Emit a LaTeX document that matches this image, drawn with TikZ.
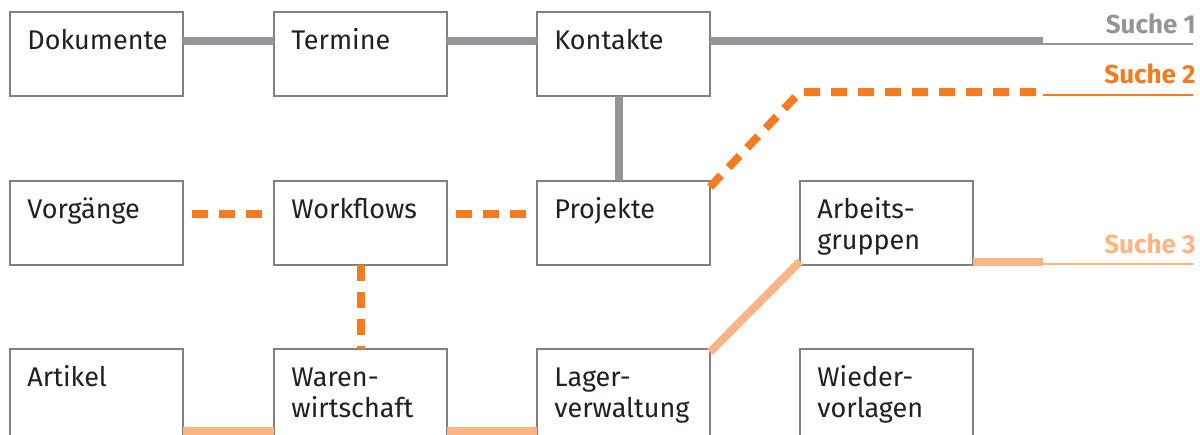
\documentclass[tikz,border=0pt]{standalone}
\usepackage{fontspec}
\setmainfont{Fira Sans}

\tikzstyle{box}=[draw={box-line}, fill=white, line width=1pt, anchor=north west, minimum width=86.5pt, minimum height=41.75pt, inner sep=0pt, outer sep=0pt]
\tikzstyle{box-low}=[box, minimum height=44pt]
\tikzstyle{box-text}=[anchor=base west, align=left, inner sep=0pt, xshift=8.5pt, yshift=-18.5pt, text={box-text}, font=\fontsize{13.5}{15.5}\selectfont]
\tikzstyle{box-text-2}=[box-text, yshift=-15.5pt]
\tikzstyle{search-label}=[anchor=base east, inner sep=0pt, font=\fontsize{13}{15}\selectfont\bfseries]
\tikzstyle{search1}=[draw={search1}, line width=4pt]
\tikzstyle{search2}=[draw={search2}, line width=4pt, dash pattern=on 8pt off 5.5pt, line join=round]
\tikzstyle{search3}=[draw={search3}, line width=4pt]
\tikzstyle{tail}=[line width=1.2pt]
\definecolor{box-line}{HTML}{808080}
\definecolor{box-text}{HTML}{231F20}
\definecolor{search1}{HTML}{939598}
\definecolor{search2}{HTML}{F47B20}
\definecolor{search3}{HTML}{FBB584}

\begin{document}
\begin{tikzpicture}[x=0.5pt, y=-0.5pt]
      \useasboundingbox (0, 0) rectangle (1200, 434);

      % row 1
      \node (dokumente) at (10, 12)
            [box, label={[box-text]north west:Dokumente}] {};
      \node (termine) at (274, 12)
            [box, label={[box-text]north west:Termine}] {};
      \node (kontakte) at (537, 12)
            [box, label={[box-text]north west:Kontakte}] {};
      % row 2
      \node (vorgaenge) at (10, 181)
            [box, label={[box-text]north west:Vorgänge}] {};
      \node (workflows) at (274, 181)
            [box, label={[box-text]north west:Workflows}] {};
      \node (projekte) at (537, 181)
            [box, label={[box-text]north west:Projekte}] {};
      \node (arbeitsgruppen) at (800, 181)
            [box, label={[box-text-2]north west:{Arbeits-\\gruppen}}] {};
      % row 3 (runs off the bottom edge)
      \node (artikel) at (10, 349)
            [box-low, label={[box-text]north west:Artikel}] {};
      \node (warenwirtschaft) at (274, 349)
            [box-low, label={[box-text-2]north west:{Waren-\\wirtschaft}}] {};
      \node (lagerverwaltung) at (537, 349)
            [box-low, label={[box-text-2]north west:{Lager-\\verwaltung}}] {};
      \node (wiedervorlagen) at (800, 349)
            [box-low, label={[box-text-2]north west:{Wieder-\\vorlagen}}] {};

      \coordinate (end1) at (1043, 41);
      \coordinate (tail1) at (1193, 44);
      \coordinate (bend2) at (800, 92);
      \coordinate (end2) at (1043, 92);
      \coordinate (tail2) at (1193, 95);
      \coordinate (end3) at (1043, 261);
      \coordinate (tail3) at (1193, 264);

      % Suche 1
      \draw[search1] ([yshift=-14.5pt]dokumente.north east) -- ([yshift=-14.5pt]termine.north west);
      \draw[search1] ([yshift=-14.5pt]termine.north east) -- ([yshift=-14.5pt]kontakte.north west);
      \draw[search1] ([yshift=-14.5pt]kontakte.north east) -- (end1);
      \draw[search1] ([xshift=-2.5pt]kontakte.south) -- ([xshift=-2.5pt]projekte.north);
      \draw[search1, tail] (end1 |- tail1) -- (tail1);
      \node (suche1) at (1196, 33) [search-label, text={search1}] {Suche 1};

      % Suche 2
      \draw[search2, dash phase=9pt] ([yshift=-16.5pt]vorgaenge.north east) -- ([yshift=-16.5pt]workflows.north west);
      \draw[search2, dash phase=9pt] ([yshift=-16.5pt]workflows.north east) -- ([yshift=-16.5pt]projekte.north west);
      \draw[search2] (workflows.south) -- (warenwirtschaft.north);
      \draw[search2] ([yshift=-3pt]projekte.north east) -- (bend2) -- (end2);
      \draw[search2, solid, tail] (end2 |- tail2) -- (tail2);
      \node (suche2) at (1196, 83) [search-label, text={search2}] {Suche 2};

      % Suche 3
      \draw[search3] ([yshift=3pt]artikel.south east) -- ([yshift=3pt]warenwirtschaft.south west);
      \draw[search3] ([yshift=3pt]warenwirtschaft.south east) -- ([yshift=3pt]lagerverwaltung.south west);
      \draw[search3] ([yshift=-1.5pt]lagerverwaltung.north east) -- ([yshift=1.5pt]arbeitsgruppen.south west);
      \draw[search3] ([yshift=1.5pt]arbeitsgruppen.south east) -- ([yshift=1.5pt]arbeitsgruppen.south east -| end3);
      \draw[search3, tail] (end3 |- tail3) -- (tail3);
      \node (suche3) at (1196, 253) [search-label, text={search3}] {Suche 3};
\end{tikzpicture}
\end{document}
